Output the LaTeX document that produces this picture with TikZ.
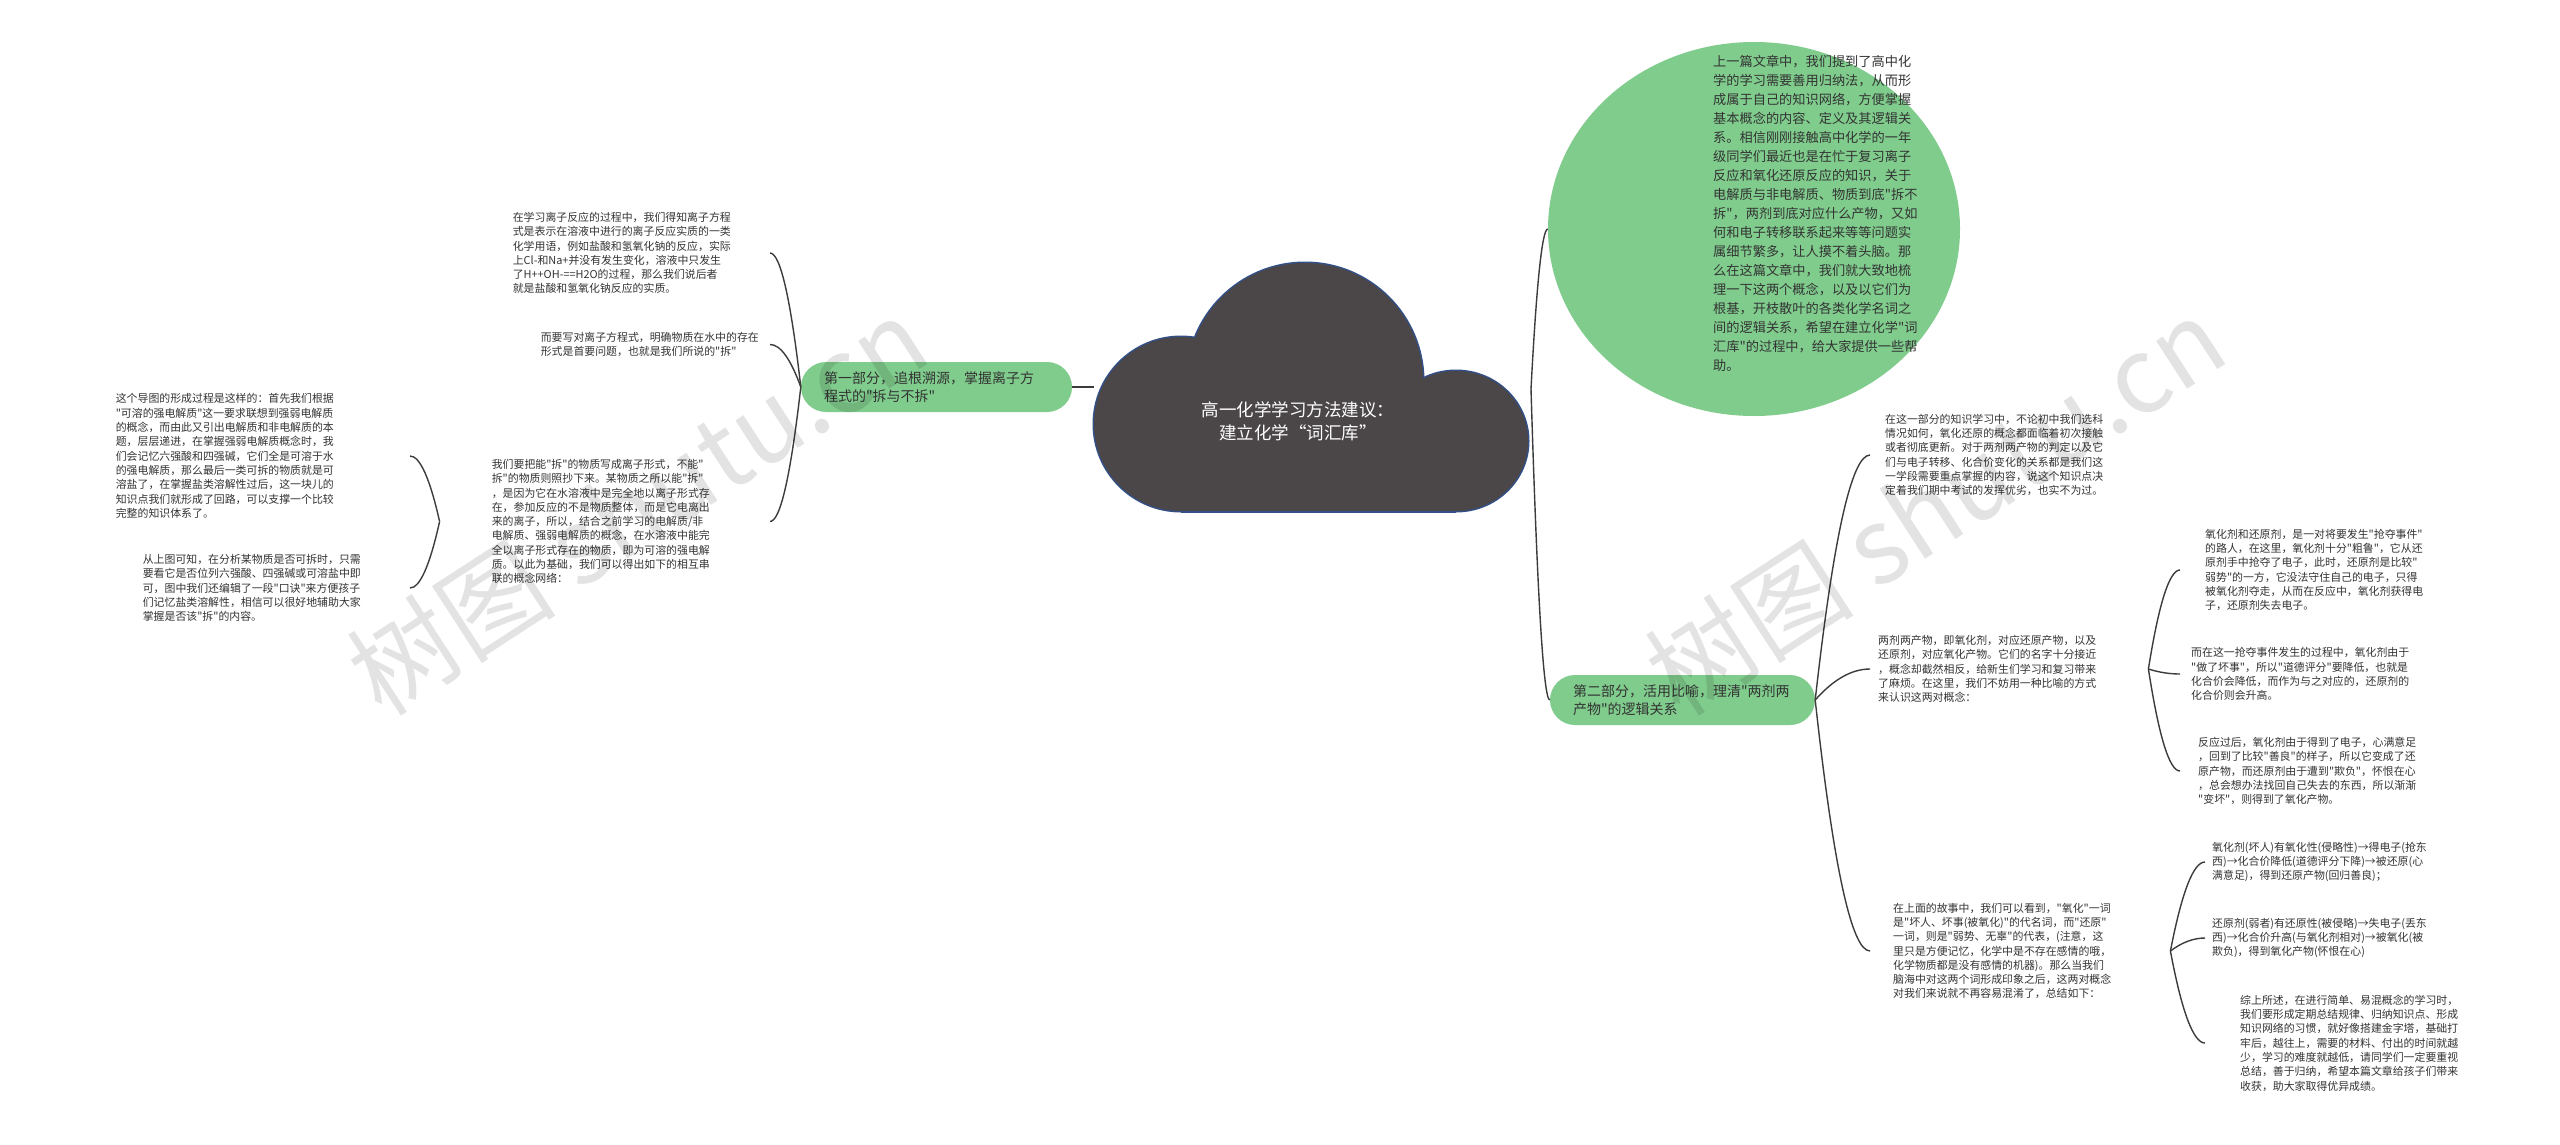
\documentclass[tikz,border=0pt]{standalone}
\usepackage{fontspec}
\newfontfamily\cjk{Noto Sans CJK SC}
\usetikzlibrary{shapes.geometric,calc}
\definecolor{cloudfill}{RGB}{75,70,71}
\definecolor{cloudedge}{RGB}{50,80,135}
\definecolor{mmgreen}{RGB}{128,204,141}
\definecolor{txtgray}{RGB}{51,51,51}
\definecolor{conngray}{RGB}{60,60,60}
\tikzset{
  smalltxt/.style={font=\cjk\fontsize{10.9}{14.3}\selectfont, text=txtgray, align=left, inner ysep=0pt, inner xsep=0pt},
  conn/.style={draw=conngray, line width=1.4pt},
  pill/.style={fill=mmgreen, rounded corners=25pt, minimum height=50pt, inner xsep=23pt, inner ysep=0pt,
     font=\cjk\fontsize{14}{17.5}\selectfont, text=txtgray, align=left},
  wmark/.style={font=\cjk\fontsize{105}{105}\selectfont, text=black, opacity=0.11, rotate=33}
}
% quadratic-like mind map link from #1 to #2
\newcommand\mmlink[2]{\draw[conn] let \p1=(#1), \p2=(#2) in (\x1,\y1) .. controls ({\x1+(\x2-\x1)/3},{\y1+2*(\y2-\y1)/3}) and ({\x2-(\x2-\x1)/3},\y2) .. (\x2,\y2);}
\begin{document}
\begin{tikzpicture}[x=1pt,y=-1pt]
\path[use as bounding box, fill=white] (0,0) rectangle (2560,1144);

% ---------- nodes ----------
\node[ellipse, fill=mmgreen, minimum width=412pt, minimum height=374pt, inner sep=0pt] (ell) at (1754,229) {};
\node[font=\cjk\fontsize{13.2}{19}\selectfont, text=txtgray, align=left, inner sep=0pt, anchor=west] (ellt) at (1713,213) {上一篇文章中，我们提到了高中化\\学的学习需要善用归纳法，从而形\\成属于自己的知识网络，方便掌握\\基本概念的内容、定义及其逻辑关\\系。相信刚刚接触高中化学的一年\\级同学们最近也是在忙于复习离子\\反应和氧化还原反应的知识，关于\\电解质与非电解质、物质到底"拆不\\拆"，两剂到底对应什么产物，又如\\何和电子转移联系起来等等问题实\\属细节繁多，让人摸不着头脑。那\\么在这篇文章中，我们就大致地梳\\理一下这两个概念，以及以它们为\\根基，开枝散叶的各类化学名词之\\间的逻辑关系，希望在建立化学"词\\汇库"的过程中，给大家提供一些帮\\助。};

\node[pill, text width=225pt] (F) at (936.5,387) {第一部分，追根溯源，掌握离子方\\程式的"拆与不拆"};
\node[pill, text width=219pt] (K) at (1682.5,700) {第二部分，活用比喻，理清"两剂两\\产物"的逻辑关系};

\node[smalltxt, anchor=east, text width=257pt] (A) at (770,253) {在学习离子反应的过程中，我们得知离子方程\\式是表示在溶液中进行的离子反应实质的一类\\化学用语，例如盐酸和氢氧化钠的反应，实际\\上Cl-和Na+并没有发生变化，溶液中只发生\\了H++OH-==H2O的过程，那么我们说后者\\就是盐酸和氢氧化钠反应的实质。};
\node[smalltxt, anchor=east, text width=229pt] (B) at (770,344.5) {而要写对离子方程式，明确物质在水中的存在\\形式是首要问题，也就是我们所说的"拆"};
\node[smalltxt, anchor=east, text width=226pt, inner xsep=52pt] (E) at (770,521.5) {我们要把能"拆"的物质写成离子形式，不能"\\拆"的物质则照抄下来。某物质之所以能"拆"\\，是因为它在水溶液中是完全地以离子形式存\\在，参加反应的不是物质整体，而是它电离出\\来的离子，所以，结合之前学习的电解质/非\\电解质、强弱电解质的概念，在水溶液中能完\\全以离子形式存在的物质，即为可溶的强电解\\质。以此为基础，我们可以得出如下的相互串\\联的概念网络：};
\node[smalltxt, anchor=east, text width=294pt] (C) at (410,456) {这个导图的形成过程是这样的：首先我们根据\\"可溶的强电解质"这一要求联想到强弱电解质\\的概念，而由此又引出电解质和非电解质的本\\题，层层递进，在掌握强弱电解质概念时，我\\们会记忆六强酸和四强碱，它们全是可溶于水\\的强电解质，那么最后一类可拆的物质就是可\\溶盐了，在掌握盐类溶解性过后，这一块儿的\\知识点我们就形成了回路，可以支撑一个比较\\完整的知识体系了。};
\node[smalltxt, anchor=east, text width=267pt] (D) at (410,588) {从上图可知，在分析某物质是否可拆时，只需\\要看它是否位列六强酸、四强碱或可溶盐中即\\可，图中我们还编辑了一段"口诀"来方便孩子\\们记忆盐类溶解性，相信可以很好地辅助大家\\掌握是否该"拆"的内容。};

\node[smalltxt, anchor=west, inner xsep=15pt, text width=230pt] (I) at (1870,455) {在这一部分的知识学习中，不论初中我们选科\\情况如何，氧化还原的概念都面临着初次接触\\或者彻底更新。对于两剂两产物的判定以及它\\们与电子转移、化合价变化的关系都是我们这\\一学段需要重点掌握的内容，说这个知识点决\\定着我们期中考试的发挥优劣，也实不为过。};
\node[smalltxt, anchor=west, inner xsep=8pt, text width=262pt] (J) at (1870,669) {两剂两产物，即氧化剂，对应还原产物，以及\\还原剂，对应氧化产物。它们的名字十分接近\\，概念却截然相反，给新生们学习和复习带来\\了麻烦。在这里，我们不妨用一种比喻的方式\\来认识这两对概念：};
\node[smalltxt, anchor=west, inner xsep=23pt, text width=254pt] (O) at (1870,951) {在上面的故事中，我们可以看到，"氧化"一词\\是"坏人、坏事(被氧化)"的代名词，而"还原"\\一词，则是"弱势、无辜"的代表，(注意，这\\里只是方便记忆，化学中是不存在感情的哦，\\化学物质都是没有感情的机器)。那么当我们\\脑海中对这两个词形成印象之后，这两对概念\\对我们来说就不再容易混淆了，总结如下：};
\node[smalltxt, anchor=west, inner xsep=25pt, text width=230pt] (L) at (2180,570) {氧化剂和还原剂，是一对将要发生"抢夺事件"\\的路人，在这里，氧化剂十分"粗鲁"，它从还\\原剂手中抢夺了电子，此时，还原剂是比较"\\弱势"的一方，它没法守住自己的电子，只得\\被氧化剂夺走，从而在反应中，氧化剂获得电\\子，还原剂失去电子。};
\node[smalltxt, anchor=west, inner xsep=11pt, text width=230pt] (M) at (2180,674) {而在这一抢夺事件发生的过程中，氧化剂由于\\"做了坏事"，所以"道德评分"要降低，也就是\\化合价会降低，而作为与之对应的，还原剂的\\化合价则会升高。};
\node[smalltxt, anchor=west, inner xsep=18pt, text width=230pt] (N) at (2180,771) {反应过后，氧化剂由于得到了电子，心满意足\\，回到了比较"善良"的样子，所以它变成了还\\原产物，而还原剂由于遭到"欺负"，怀恨在心\\，总会想办法找回自己失去的东西，所以渐渐\\"变坏"，则得到了氧化产物。};
\node[smalltxt, anchor=west, inner xsep=7pt, text width=230pt] (P) at (2205,862) {氧化剂(坏人)有氧化性(侵略性)→得电子(抢东\\西)→化合价降低(道德评分下降)→被还原(心\\满意足)，得到还原产物(回归善良)；};
\node[smalltxt, anchor=west, inner xsep=7pt, text width=230pt] (Q) at (2205,938) {还原剂(弱者)有还原性(被侵略)→失电子(丢东\\西)→化合价升高(与氧化剂相对)→被氧化(被\\欺负)，得到氧化产物(怀恨在心)};
\node[smalltxt, anchor=west, inner xsep=35pt, text width=200pt] (R) at (2205,1043) {综上所述，在进行简单、易混概念的学习时，\\我们要形成定期总结规律、归纳知识点、形成\\知识网络的习惯，就好像搭建金字塔，基础打\\牢后，越往上，需要的材料、付出的时间就越\\少，学习的难度就越低，请同学们一定要重视\\总结，善于归纳，希望本篇文章给孩子们带来\\收获，助大家取得优异成绩。};

% ---------- cloud ----------
\coordinate (cL) at (1094,387);
\coordinate (cR) at (1531,389);
\fill[cloudedge] (1181,424) circle[radius=88.5pt];
\fill[cloudedge] (1305,381) circle[radius=119.5pt];
\fill[cloudedge] (1456,441) ellipse[x radius=73.5pt, y radius=71.5pt];
\fill[cloudedge] (1181,422) rectangle (1456,512.5);
\fill[cloudfill] (1181,424) circle[radius=87pt];
\fill[cloudfill] (1305,381) circle[radius=118pt];
\fill[cloudfill] (1456,441) ellipse[x radius=72pt, y radius=70pt];
\fill[cloudfill] (1181,424) rectangle (1456,511);
\node[font=\cjk\fontsize{17.5}{23}\selectfont, text=white, align=center, inner sep=0pt] (title) at (1298,421) {高一化学学习方法建议：\\建立化学“词汇库”};

% ---------- connectors ----------
\draw[conn] (F.east) -- (cL);
\mmlink{cR}{ell.west}
\mmlink{cR}{K.west}
\mmlink{F.west}{A.east}
\mmlink{F.west}{B.east}
\mmlink{F.west}{E.east}
\mmlink{E.west}{C.east}
\mmlink{E.west}{D.east}
\mmlink{K.east}{I.west}
\mmlink{K.east}{J.west}
\mmlink{K.east}{O.west}
\mmlink{J.east}{L.west}
\mmlink{J.east}{M.west}
\mmlink{J.east}{N.west}
\mmlink{O.east}{P.west}
\mmlink{O.east}{Q.west}
\mmlink{O.east}{R.west}

% ---------- watermarks ----------
\node[wmark] (wm1) at (637,506) {树图 shutu.cn};
\node[wmark] (wm2) at (1935,506) {树图 shutu.cn};
\end{tikzpicture}
\end{document}
